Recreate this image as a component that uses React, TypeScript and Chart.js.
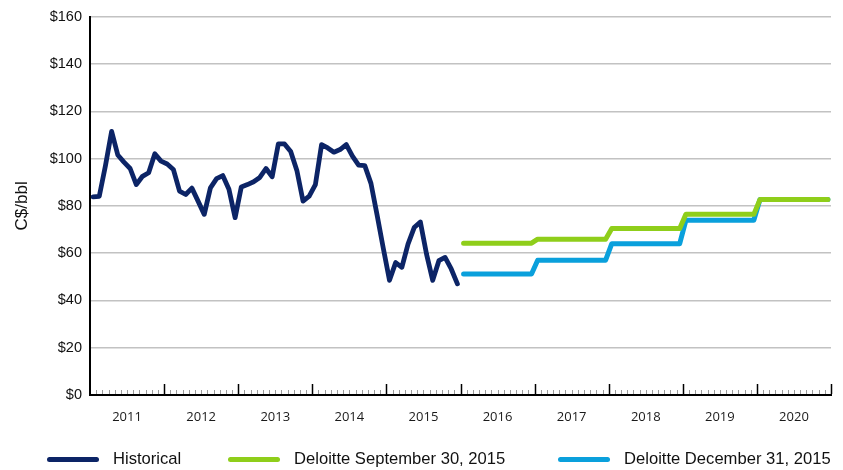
import { useEffect, useRef } from "react";
import { Chart, registerables } from "chart.js";

Chart.register(...registerables);

// ---- data ----
const years = ["2011", "2012", "2013", "2014", "2015", "2016", "2017", "2018", "2019", "2020"];

// Monthly historical price, Jan 2011 – Dec 2015 (C$/bbl)
const historical = [
  83.8, 84.0, 97.0, 111.5, 101.5, 98.5, 95.8, 89.0, 92.5, 94.0, 102.0, 98.9,
  97.7, 95.4, 86.2, 84.8, 87.5, 82.0, 76.4, 87.6, 91.5, 92.8, 87.0, 75.0,
  88.0, 89.0, 90.2, 92.0, 95.8, 92.3, 106.2, 106.2, 103.0, 95.0, 82.0, 84.1,
  89.0, 105.9, 104.5, 102.7, 103.8, 105.9, 101.0, 97.2, 97.0, 89.5, 76.0, 62.0,
  48.5, 56.0, 54.0, 63.8, 70.8, 73.2, 59.6, 48.5, 56.8, 58.2, 53.3, 47.0,
];

const forecastYears = ["2016", "2017", "2018", "2019", "2020"];
const septForecast = [64.2, 65.9, 70.4, 76.4, 82.7];
const decForecast = [51.2, 57.0, 64.0, 73.9, 82.7];

const yTickValues = [0, 20, 40, 60, 80, 100, 120, 140, 160];

const seriesNames = ["Historical", "Deloitte September 30, 2015", "Deloitte December 31, 2015"];
const seriesColors = ["#0c2466", "#8fce1a", "#0aa0dc"];

// legend layout (pixel offsets of each legend entry)
const legendLeft = [47, 228, 558];

// ---- helpers ----
const MONTHS = 12;
const firstYear = Number(years[0]);

const historicalPoints = historical.map((v, i) => ({ x: i + 0.5, y: v }));

function forecastPoints(values: number[]) {
  const pts: { x: number; y: number }[] = [];
  forecastYears.forEach((yr, k) => {
    const start = (Number(yr) - firstYear) * MONTHS;
    pts.push({ x: start + 0.5, y: values[k] });
    pts.push({ x: start + MONTHS - 0.5, y: values[k] });
  });
  return pts;
}

const monthTicksPlugin = {
  id: "monthTicks",
  afterDraw(chart: any) {
    const x = chart.scales.x;
    const { ctx, chartArea } = chart;
    const bottom = chartArea.bottom;
    ctx.save();
    for (let m = 1; m <= years.length * MONTHS; m++) {
      const px = Math.round(x.getPixelForValue(m)) + 0.5;
      const major = m % MONTHS === 0;
      ctx.beginPath();
      ctx.strokeStyle = major ? "#000" : "#9a9a9a";
      ctx.lineWidth = major ? 1.5 : 1;
      ctx.moveTo(px, bottom - 1);
      ctx.lineTo(px, bottom - (major ? 11 : 5));
      ctx.stroke();
    }
    ctx.restore();
  },
};

export default function App() {
  const canvasRef = useRef<HTMLCanvasElement | null>(null);

  useEffect(() => {
    if (!canvasRef.current) return;
    const chart = new Chart(canvasRef.current, {
      type: "line",
      data: {
        datasets: [
          {
            label: seriesNames[0],
            data: historicalPoints,
            borderColor: seriesColors[0],
            borderWidth: 4.8,
          },
          {
            label: seriesNames[1],
            data: forecastPoints(septForecast),
            borderColor: seriesColors[1],
            borderWidth: 5,
          },
          {
            label: seriesNames[2],
            data: forecastPoints(decForecast),
            borderColor: seriesColors[2],
            borderWidth: 5,
          },
        ] as any,
      },
      options: {
        responsive: false,
        animation: false,
        events: [],
        layout: { padding: { top: 11, right: 12, left: 0, bottom: 0 } },
        elements: {
          point: { radius: 0 },
          line: { tension: 0, borderJoinStyle: "round", borderCapStyle: "round", fill: false },
        },
        plugins: {
          legend: { display: false },
          tooltip: { enabled: false },
        },
        scales: {
          x: {
            type: "linear",
            min: 0,
            max: years.length * MONTHS,
            afterBuildTicks: (scale: any) => {
              scale.ticks = years.map((_, i) => ({ value: i * MONTHS + MONTHS / 2 }));
            },
            afterFit: (scale: any) => {
              scale.height = 75;
            },
            grid: { display: false, drawTicks: false },
            border: { display: true, color: "#000", width: 2 },
            ticks: {
              autoSkip: false,
              maxRotation: 0,
              padding: 14,
              color: "#1a1a1a",
              font: { family: "'Open Sans', sans-serif", size: 13 },
              callback: (v: any) => years[Math.round((Number(v) - MONTHS / 2) / MONTHS)] ?? "",
            },
          },
          y: {
            min: 0,
            max: 160,
            afterBuildTicks: (scale: any) => {
              scale.ticks = yTickValues.map((v) => ({ value: v }));
            },
            afterFit: (scale: any) => {
              scale.width = 90;
            },
            grid: { color: "#c2c2c2", lineWidth: 1.5, drawTicks: false },
            border: { display: true, color: "#000", width: 2 },
            ticks: {
              padding: 8,
              color: "#111",
              font: { family: "'Liberation Sans', Arial, sans-serif", size: 14.5 },
              callback: (v: any) => "$" + v,
            },
            title: {
              display: true,
              text: "C$/bbl",
              color: "#111",
              padding: { top: 12, bottom: 0 },
              font: { family: "'Liberation Sans', Arial, sans-serif", size: 17 },
            },
          },
        },
      },
      plugins: [monthTicksPlugin],
    } as any);
    return () => chart.destroy();
  }, []);

  return (
    <div style={{ position: "absolute", left: 0, top: 0, width: 843, height: 470, background: "#fff" }}>
      <canvas ref={canvasRef} width={843} height={470} style={{ display: "block" }} />
      {seriesNames.map((name, i) => (
        <div
          key={name}
          style={{
            position: "absolute",
            left: legendLeft[i],
            top: 449,
            height: 20,
            display: "flex",
            alignItems: "center",
            fontFamily: "'Liberation Sans', Arial, sans-serif",
            fontSize: 16.6,
            color: "#111",
            whiteSpace: "nowrap",
          }}
        >
          <span
            style={{
              display: "inline-block",
              width: 52,
              height: 5,
              borderRadius: 3,
              background: seriesColors[i],
              marginRight: 14,
            }}
          />
          <span>{name}</span>
        </div>
      ))}
    </div>
  );
}
